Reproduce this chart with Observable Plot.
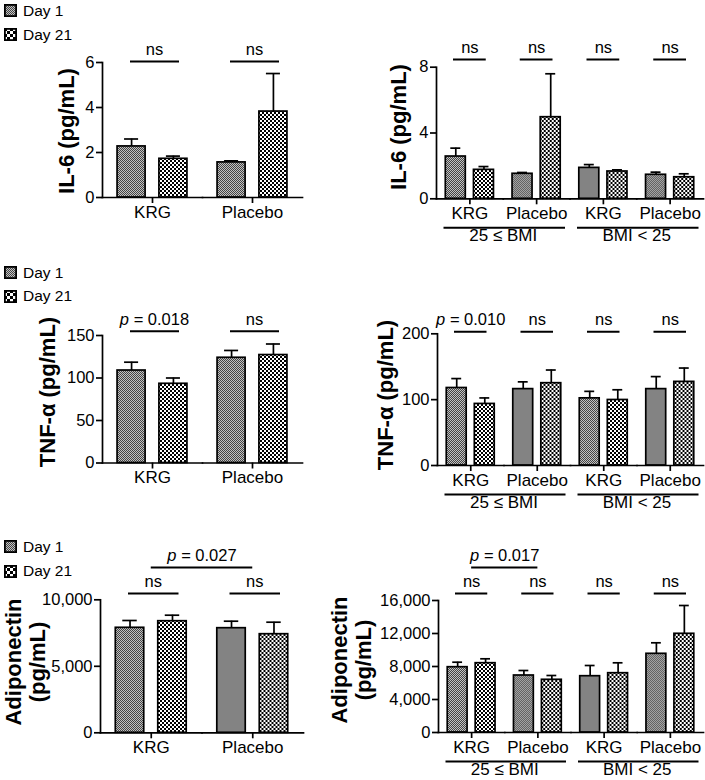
<!DOCTYPE html>
<html><head><meta charset="utf-8">
<script src="https://cdn.jsdelivr.net/npm/d3@7"></script>
<script src="https://cdn.jsdelivr.net/npm/@observablehq/plot@0.6"></script>
<style>
body { margin:0; background:#fff; font-family:"Liberation Sans", Arial, sans-serif; color:#000; }
#root { position:relative; width:705px; height:780px; overflow:hidden; background:#fff; }
.panel { position:absolute; }
.panel svg { position:absolute; left:0; top:0; }
.ylab { position:absolute; font-weight:bold; font-size:22px; line-height:24px; white-space:nowrap; text-align:center; transform:translate(-50%,-50%) rotate(-90deg); }
.leg { position:absolute; left:4px; height:14px; display:flex; align-items:center; font-size:15.5px; line-height:14px; white-space:nowrap; }
.leg svg { margin-right:6px; display:block; }
</style></head>
<body>
<svg width="0" height="0" style="position:absolute">
  <defs>
    <pattern id="pDay1" width="2" height="2" patternUnits="userSpaceOnUse">
      <rect width="2" height="2" fill="#c2c2c2"/>
      <rect width="1" height="1" fill="#444"/>
      <rect x="1" y="1" width="1" height="1" fill="#444"/>
    </pattern>
    <pattern id="pDay21" width="4" height="4" patternUnits="userSpaceOnUse">
      <rect width="4" height="4" fill="#ffffff"/>
      <rect width="2" height="2" fill="#000"/>
      <rect x="2" y="2" width="2" height="2" fill="#000"/>
    </pattern>
    <pattern id="pLeg21" width="6" height="6" patternUnits="userSpaceOnUse">
      <rect width="6" height="6" fill="#ffffff"/>
      <rect width="3" height="3" fill="#000"/>
      <rect x="3" y="3" width="3" height="3" fill="#000"/>
    </pattern>
  </defs>
</svg>
<div id="root"></div>
<script>
// ---------- data ----------
const days = ["Day 1", "Day 21"];
const treatments = ["KRG", "Placebo"];
const bmiGroups = ["25 \u2264 BMI", "BMI < 25"];

// rows: KRG, Placebo ; columns: Day 1, Day 21
const il6Mean = [[2.27, 1.72], [1.56, 3.82]];
const il6SE   = [[0.33, 0.12], [0.07, 1.69]];
// rows: 25≤BMI KRG, 25≤BMI Placebo, BMI<25 KRG, BMI<25 Placebo
const il6BmiMean = [[2.57, 1.76], [1.52, 4.96], [1.88, 1.66], [1.46, 1.31]];
const il6BmiSE   = [[0.51, 0.20], [0.08, 2.64], [0.20, 0.10], [0.16, 0.21]];

const tnfMean = [[108.8, 93.2], [123.8, 127.0]];
const tnfSE   = [[9.8, 6.8], [8.6, 13.0]];
const tnfBmiMean = [[117.7, 93.5], [116.0, 125.0], [102.0, 99.5], [116.0, 127.0]];
const tnfBmiSE   = [[14.3, 9.1], [11.0, 20.0], [10.6, 15.5], [19.0, 21.0]];

const adipoMean = [[7895, 8391], [7865, 7414]];
const adipoSE   = [[549, 451], [526, 902]];
const adipoBmiMean = [[7915, 8400], [6909, 6388], [6824, 7188], [9539, 11964]];
const adipoBmiSE   = [[606, 533], [606, 521], [1297, 1260], [1334, 3430]];

// significance labels per group
const il6Sig = ["ns", "ns"];
const il6BmiSig = ["ns", "ns", "ns", "ns"];
const tnfSig = ["p = 0.018", "ns"];
const tnfBmiSig = ["p = 0.010", "ns", "ns", "ns"];
const adipoSig = ["ns", "ns"];
const adipoBmiSig = ["ns", "ns", "ns", "ns"];
const adipoCross = {group: bmiGroups[0], from: "KRG", to: "Placebo", label: "p = 0.027"};
const adipoBmiCross = {group: bmiGroups[0], from: "KRG", to: "Placebo", label: "p = 0.017"};

// tick labels
const il6Ticks = [0, 2, 4, 6];
const il6BmiTicks = [0, 4, 8];
const tnfTicks = [0, 50, 100, 150];
const tnfBmiTicks = [0, 100, 200];
const adipoTicks = [0, 5000, 10000];
const adipoBmiTicks = [0, 4000, 8000, 12000, 16000];

// ---------- layout ----------
const FONT = "Liberation Sans, Arial, sans-serif";
const bmiKeys = bmiGroups.flatMap(b => treatments.map(t => b + "|" + t));
const fmtComma = d3.format(",");
const left = {pIn: 0.33, pOut: 0.36, capInset: 7, sigL: 28, sigR: 23, sigDx: 2};
const right = {pIn: 0.29, pOut: 0.33, capInset: 5, sigL: 17, sigR: 17, sigDx: 0};

const panels = [
  {...left, x: 0, y: 30, w: 345, h: 200, mL: 102, mR: 43, mT: 32, mB: 33,
   keys: treatments, mean: il6Mean, se: il6SE, sig: il6Sig, sigLevel: 6.05,
   yDomain: [0, 6], yTicks: il6Ticks, yFmt: d => String(d),
   ylab: ["IL-6 (pg/mL)"], ylx: 67, yly: 131, legend: [10.5, 34.5]},
  {...right, x: 345, y: 30, w: 360, h: 230, mL: 91, mR: 2, mT: 36.7, mB: 61.7,
   keys: bmiKeys, bmi: true, mean: il6BmiMean, se: il6BmiSE, sig: il6BmiSig, sigLevel: 8.47,
   yDomain: [0, 8], yTicks: il6BmiTicks, yFmt: d => String(d),
   ylab: ["IL-6 (pg/mL)"], ylx: 399, yly: 127},
  {...left, x: 0, y: 300, w: 345, h: 200, mL: 102, mR: 43, mT: 35, mB: 37.5,
   keys: treatments, mean: tnfMean, se: tnfSE, sig: tnfSig, sigLevel: 155,
   yDomain: [0, 150], yTicks: tnfTicks, yFmt: d => String(d),
   ylab: ["TNF-\u03b1 (pg/mL)"], ylx: 48, yly: 392, legend: [272.5, 296]},
  {...right, x: 345, y: 300, w: 360, h: 225, mL: 92, mR: 2, mT: 33.3, mB: 60,
   keys: bmiKeys, bmi: true, mean: tnfBmiMean, se: tnfBmiSE, sig: tnfBmiSig, sigLevel: 203,
   yDomain: [0, 200], yTicks: tnfBmiTicks, yFmt: d => String(d),
   ylab: ["TNF-\u03b1 (pg/mL)"], ylx: 386, yly: 395},
  {...left, x: 0, y: 540, w: 345, h: 240, mL: 100, mR: 42, mT: 59.3, mB: 47.7,
   keys: treatments, mean: adipoMean, se: adipoSE, sig: adipoSig, sigLevel: 10470,
   cross: adipoCross, crossLevel: 12430,
   yDomain: [0, 10000], yTicks: adipoTicks, yFmt: fmtComma,
   ylab: ["Adiponectin", "(pg/mL)"], ylx: 26, yly: 662, legend: [546.5, 571]},
  {...right, x: 345, y: 540, w: 360, h: 240, mL: 93, mR: 2, mT: 60, mB: 48,
   keys: bmiKeys, bmi: true, mean: adipoBmiMean, se: adipoBmiSE, sig: adipoBmiSig, sigLevel: 16850,
   cross: adipoBmiCross, crossLevel: 20000,
   yDomain: [0, 16000], yTicks: adipoBmiTicks, yFmt: fmtComma,
   ylab: ["Adiponectin", "(pg/mL)"], ylx: 352, yly: 660}
];

const SW = 1.7;
function base(c) {
  return {width: c.w, height: c.h, marginLeft: c.mL, marginRight: c.mR, marginTop: c.mT, marginBottom: c.mB,
    style: {background: "transparent", fontFamily: FONT, overflow: "visible", color: "#000"}};
}

function plotA(c) {
  const rows = [];
  c.keys.forEach((k, i) => days.forEach((d, j) => rows.push({key: k, day: d, mean: c.mean[i][j], se: c.se[i][j]})));
  const sig = c.keys.map((k, i) => ({key: k, label: c.sig[i]}));
  const fxFmt = c.bmi ? (k => k.split("|")[1]) : (k => k);
  return Plot.plot({
    ...base(c),
    fx: {domain: c.keys, padding: 0, round: false, label: null},
    x: {domain: days, paddingInner: c.pIn, paddingOuter: c.pOut, round: false, axis: null},
    y: {domain: c.yDomain, label: null},
    color: {domain: days, range: ["url(#pDay1)", "url(#pDay21)"]},
    marks: [
      Plot.barY(rows, {fx: "key", x: "day", y: "mean", fill: "day", stroke: "#000", strokeWidth: SW}),
      Plot.ruleX(rows, {fx: "key", x: "day", y1: "mean", y2: d => d.mean + d.se, stroke: "#000", strokeWidth: SW}),
      Plot.tickY(rows, {fx: "key", x: "day", y: d => d.mean + d.se, inset: c.capInset, stroke: "#000", strokeWidth: SW}),
      Plot.ruleY(sig, {fx: "key", y: () => c.sigLevel, insetLeft: c.sigL, insetRight: c.sigR, stroke: "#000", strokeWidth: 2}),
      Plot.text(sig, {fx: "key", y: () => c.sigLevel, text: "label", dy: -12, dx: c.sigDx, fontSize: 16.5, fill: "#000"}),
      Plot.frame({anchor: "bottom", stroke: "#000", strokeWidth: SW}),
      Plot.frame({anchor: "left", facetAnchor: "left", stroke: "#000", strokeWidth: SW}),
      Plot.axisY({ticks: c.yTicks, tickSize: 6, tickPadding: 2, tickFormat: c.yFmt, fontSize: 16.5, strokeWidth: SW, label: null}),
      Plot.axisFx({anchor: "bottom", tickSize: 6, tickPadding: 2, tickFormat: fxFmt, fontSize: 17, strokeWidth: SW, label: null})
    ]
  });
}

function plotB(c) {
  const marks = [];
  if (c.bmi) {
    marks.push(
      Plot.frame({anchor: "bottom", insetBottom: -29, insetLeft: 8, insetRight: 6, stroke: "#000", strokeWidth: 2}),
      Plot.text(bmiGroups, {fx: d => d, text: d => d, frameAnchor: "bottom", dy: 42, fontSize: 17, fill: "#000"})
    );
    if (c.cross) {
      marks.push(
        Plot.ruleY([c.cross], {fx: "group", x1: "from", x2: "to", y: () => c.crossLevel, stroke: "#000", strokeWidth: 2}),
        Plot.text([c.cross], {fx: "group", y: () => c.crossLevel, text: "label", dy: -12, fontSize: 16.5, fill: "#000"})
      );
    }
    return Plot.plot({
      ...base(c),
      fx: {domain: bmiGroups, padding: 0, round: false, axis: null},
      x: {type: "point", domain: treatments, padding: 0.5, round: false, axis: null},
      y: {domain: c.yDomain, axis: null},
      marks
    });
  }
  marks.push(
    Plot.ruleY([c.cross], {x1: "from", x2: "to", y: () => c.crossLevel, stroke: "#000", strokeWidth: 2}),
    Plot.text([c.cross], {y: () => c.crossLevel, text: "label", dy: -12, fontSize: 16.5, fill: "#000"})
  );
  return Plot.plot({
    ...base(c),
    x: {type: "point", domain: treatments, padding: 0.5, round: false, axis: null},
    y: {domain: c.yDomain, axis: null},
    marks
  });
}

const root = document.getElementById("root");
const SVGNS = "http://www.w3.org/2000/svg";

function swatch(id) {
  const s = document.createElementNS(SVGNS, "svg");
  s.setAttribute("width", 13); s.setAttribute("height", 13);
  const r = document.createElementNS(SVGNS, "rect");
  r.setAttribute("x", 0.9); r.setAttribute("y", 0.9); r.setAttribute("width", 11.2); r.setAttribute("height", 11.2);
  r.setAttribute("fill", `url(#${id})`); r.setAttribute("stroke", "#000"); r.setAttribute("stroke-width", 1.8);
  s.appendChild(r);
  return s;
}

for (const c of panels) {
  const div = document.createElement("div");
  div.className = "panel";
  div.style.left = c.x + "px"; div.style.top = c.y + "px";
  div.style.width = c.w + "px"; div.style.height = c.h + "px";
  div.appendChild(plotA(c));
  if (c.bmi || c.cross) div.appendChild(plotB(c));
  root.appendChild(div);

  const lab = document.createElement("div");
  lab.className = "ylab";
  lab.innerHTML = c.ylab.join("<br>");
  lab.style.left = c.ylx + "px"; lab.style.top = c.yly + "px";
  root.appendChild(lab);

  if (c.legend) {
    days.forEach((d, i) => {
      const item = document.createElement("div");
      item.className = "leg";
      item.style.top = (c.legend[i] - 7) + "px";
      item.appendChild(swatch(i === 0 ? "pDay1" : "pLeg21"));
      const t = document.createElement("span");
      t.textContent = d;
      item.appendChild(t);
      root.appendChild(item);
    });
  }
}

// italic "p" in p-value labels
root.querySelectorAll("text").forEach(t => {
  const s = t.textContent;
  if (s.startsWith("p = ") && t.children.length === 0) {
    t.textContent = "";
    const ts = document.createElementNS(SVGNS, "tspan");
    ts.setAttribute("font-style", "italic");
    ts.textContent = "p";
    t.appendChild(ts);
    t.appendChild(document.createTextNode(s.slice(1)));
  }
});
</script>
</body></html>
